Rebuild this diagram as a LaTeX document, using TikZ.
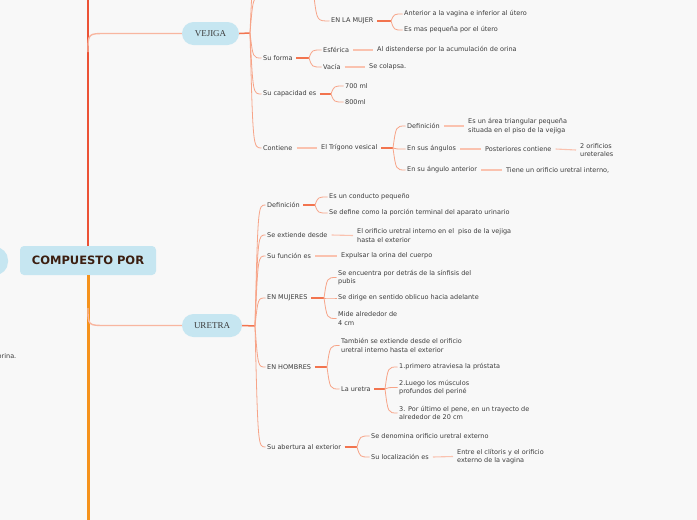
\documentclass[tikz,border=0pt]{standalone}
\usepackage{fontspec}
\setmainfont{DejaVu Sans}
\newfontfamily\pillfont{Liberation Serif}
\usetikzlibrary{calc}
\definecolor{bg}{HTML}{F8F8F8}
\definecolor{txt}{HTML}{3C3C3C}
\definecolor{pill}{HTML}{C6E6F1}
\definecolor{stemc}{HTML}{F2744F}
\definecolor{fanc}{HTML}{F7A488}
\definecolor{linkc}{HTML}{FAC2AF}
\definecolor{branchc}{HTML}{F8B6A0}
\definecolor{topline}{HTML}{EC5236}
\definecolor{botline}{HTML}{F5921C}
\definecolor{dark}{HTML}{3B1E10}
\tikzset{
 t/.style={anchor=west, inner sep=1.5pt, text=txt, align=left, font=\fontsize{6.5}{8.8}\selectfont},
 pillnode/.style={fill=pill, rounded corners=11.5pt, minimum height=23pt, inner sep=0pt, text=txt, font=\pillfont\fontsize{9}{10}\selectfont},
 stemline/.style={draw=stemc, line width=1.5pt},
 fanline/.style={draw=fanc, line width=0.8pt},
 linkline/.style={draw=linkc, line width=1.1pt},
 branch/.style={draw=branchc, line width=1.4pt},
}
\newcommand\fanl[2]{\draw[fanline] (#1) .. controls ($(#1|-#2)+(3,0)$) .. (#2);}
\newcommand\stm[2]{\draw[stemline] ($(#1.east)+(2,0)$) -- (#2);}
\newcommand\lnk[2]{\draw[linkline] ($(#1.east)+(2.5,0)$) -- ($(#2.west)+(-2.5,0)$);}
\begin{document}
\begin{tikzpicture}[x=1pt,y=-1pt]
\useasboundingbox (0,0) rectangle (697,520);
\fill[bg] (0,0) rectangle (697,520);
\clip (0,0) rectangle (697,520);

% left partial node and text
\node[fill=pill, rounded corners=13pt, minimum width=60pt, minimum height=28pt] (lft) at (-22,261) {};
\node[t, anchor=east] (orina) at (18,356) {orina.};

% central node
\node[fill=pill, rounded corners=4pt, minimum width=136pt, minimum height=29pt, inner sep=0pt,
      font=\bfseries\fontsize{11.5}{12}\selectfont, text=dark] (cp) at (88,260.5) {COMPUESTO POR};
\coordinate (top) at (88,-2);
\coordinate (bot) at (88,522);
\draw[topline, line width=2.6pt] (top) -- (cp.north);
\draw[botline, line width=3pt] (cp.south) -- (bot);

% main branches
\node[pillnode, minimum width=57pt] (vej) at (210.5,33.5) {VEJIGA};
\node[pillnode, minimum width=60pt] (ure) at (212,325.5) {URETRA};
\coordinate (bV) at (88,52);
\coordinate (bU) at (88,308);
\draw[branch] (bV) .. controls (bV|-vej.west) .. ($(bV|-vej.west)+(18,0)$) -- (vej.west);
\draw[branch] (bU) .. controls (bU|-ure.west) .. ($(bU|-ure.west)+(18,0)$) -- (ure.west);

% ===== VEJIGA subtree =====
\coordinate (hV) at (250,33);
\draw[stemline] (vej.east) -- (hV);
\coordinate (vtop) at (261,-35);
\node[t] (loc) at (261.5,-3) {Localización};
\node[t] (forma) at (261.5,58) {Su forma};
\node[t] (cap) at (261.5,94) {Su capacidad es};
\node[t] (cont) at (261.5,148) {Contiene};
\fanl{hV}{vtop}
\fanl{hV}{loc.west}
\fanl{hV}{forma.west}
\fanl{hV}{cap.west}
\fanl{hV}{cont.west}

% Localizacion
\coordinate (hLoc) at (314,-3);
\stm{loc}{hLoc}
\node[t] (mujer) at (329.5,21) {EN LA MUJER};
\fanl{hLoc}{mujer.west}
\coordinate (hMuj) at (391,21);
\stm{mujer}{hMuj}
\node[t] (m1) at (402.5,14) {Anterior a la vagina e inferior al útero};
\node[t] (m2) at (402.5,30) {Es mas pequeña por el útero};
\fanl{hMuj}{m1.west}
\fanl{hMuj}{m2.west}

% Su forma
\coordinate (hForma) at (309,58);
\stm{forma}{hForma}
\node[t] (esf) at (321.5,50) {Esférica};
\node[t] (vac) at (321.5,67) {Vacía};
\fanl{hForma}{esf.west}
\fanl{hForma}{vac.west}
\node[t] (esf1) at (375.5,50) {Al distenderse por la acumulación de orina};
\node[t] (vac1) at (367.5,67) {Se colapsa.};
\lnk{esf}{esf1}
\lnk{vac}{vac1}

% Su capacidad
\coordinate (hCap) at (331,94);
\stm{cap}{hCap}
\node[t] (c1) at (343.5,86) {700 ml};
\node[t] (c2) at (343.5,102) {800ml};
\fanl{hCap}{c1.west}
\fanl{hCap}{c2.west}

% Contiene
\node[t] (tri) at (319.5,148) {El Trígono vesical};
\lnk{cont}{tri}
\coordinate (hTri) at (393,148);
\stm{tri}{hTri}
\node[t] (td) at (405.5,126) {Definición};
\node[t] (ta) at (405.5,149) {En sus ángulos};
\node[t] (tb) at (405.5,170) {En su ángulo anterior};
\fanl{hTri}{td.west}
\fanl{hTri}{ta.west}
\fanl{hTri}{tb.west}
\node[t] (td1) at (466.5,126) {Es un área triangular pequeña\\situada en el piso de la vejiga};
\lnk{td}{td1}
\node[t] (ta1) at (483.5,149) {Posteriores contiene};
\lnk{ta}{ta1}
\node[t] (ta2) at (578.5,150) {2 orificios\\ureterales};
\lnk{ta1}{ta2}
\node[t] (tb1) at (504.5,170) {Tiene un orificio uretral interno,};
\lnk{tb}{tb1}

% ===== URETRA subtree =====
\coordinate (hU) at (255,326);
\draw[stemline] (ure.east) -- (hU);
\node[t] (ud) at (265.5,205) {Definición};
\node[t] (ue) at (265.5,235) {Se extiende desde};
\node[t] (uf) at (265.5,256) {Su función es};
\node[t] (um) at (265.5,298) {EN MUJERES};
\node[t] (uh) at (265.5,367) {EN HOMBRES};
\node[t] (ua) at (265.5,447) {Su abertura al exterior};
\fanl{hU}{ud.west}
\fanl{hU}{ue.west}
\fanl{hU}{uf.west}
\fanl{hU}{um.west}
\fanl{hU}{uh.west}
\fanl{hU}{ua.west}

% Definicion
\coordinate (hUd) at (315,205);
\stm{ud}{hUd}
\node[t] (ud1) at (327.5,197) {Es un conducto pequeño};
\node[t] (ud2) at (327.5,213) {Se define como la porción terminal del aparato urinario};
\fanl{hUd}{ud1.west}
\fanl{hUd}{ud2.west}

% Se extiende desde
\node[t] (ue1) at (355.5,235.5) {El orificio uretral interno en el\ \ piso de la vejiga\\hasta el exterior};
\lnk{ue}{ue1}

% Su funcion
\node[t] (uf1) at (339.5,256) {Expulsar la orina del cuerpo};
\lnk{uf}{uf1}

% EN MUJERES
\coordinate (hUm) at (324,298);
\stm{um}{hUm}
\node[t] (um1) at (336.5,277.5) {Se encuentra por detrás de la sínfisis del\\pubis};
\node[t] (um2) at (336.5,298) {Se dirige en sentido oblicuo hacia adelante};
\node[t] (um3) at (336.5,318.5) {Mide alrededor de\\4 cm};
\fanl{hUm}{um1.west}
\fanl{hUm}{um2.west}
\fanl{hUm}{um3.west}

% EN HOMBRES
\coordinate (hUh) at (327,367);
\stm{uh}{hUh}
\node[t] (uh1) at (339.5,345.5) {También se extiende desde el orificio\\uretral interno hasta el exterior};
\node[t] (uh2) at (339.5,389) {La uretra};
\fanl{hUh}{uh1.west}
\fanl{hUh}{uh2.west}
\coordinate (hUh2) at (385,389);
\stm{uh2}{hUh2}
\node[t] (uh21) at (397.5,367) {1.primero atraviesa la próstata};
\node[t] (uh22) at (397.5,387.5) {2.Luego los músculos\\profundos del periné};
\node[t] (uh23) at (397.5,413) {3. Por último el pene, en un trayecto de\\alrededor de 20 cm};
\fanl{hUh2}{uh21.west}
\fanl{hUh2}{uh22.west}
\fanl{hUh2}{uh23.west}

% Su abertura
\coordinate (hUa) at (357,447);
\stm{ua}{hUa}
\node[t] (ua1) at (369.5,436) {Se denomina orificio uretral externo};
\node[t] (ua2) at (369.5,457) {Su localización es};
\fanl{hUa}{ua1.west}
\fanl{hUa}{ua2.west}
\node[t] (ua21) at (455.5,456.5) {Entre el clítoris y el orificio\\externo de la vagina};
\lnk{ua2}{ua21}
\end{tikzpicture}
\end{document}
